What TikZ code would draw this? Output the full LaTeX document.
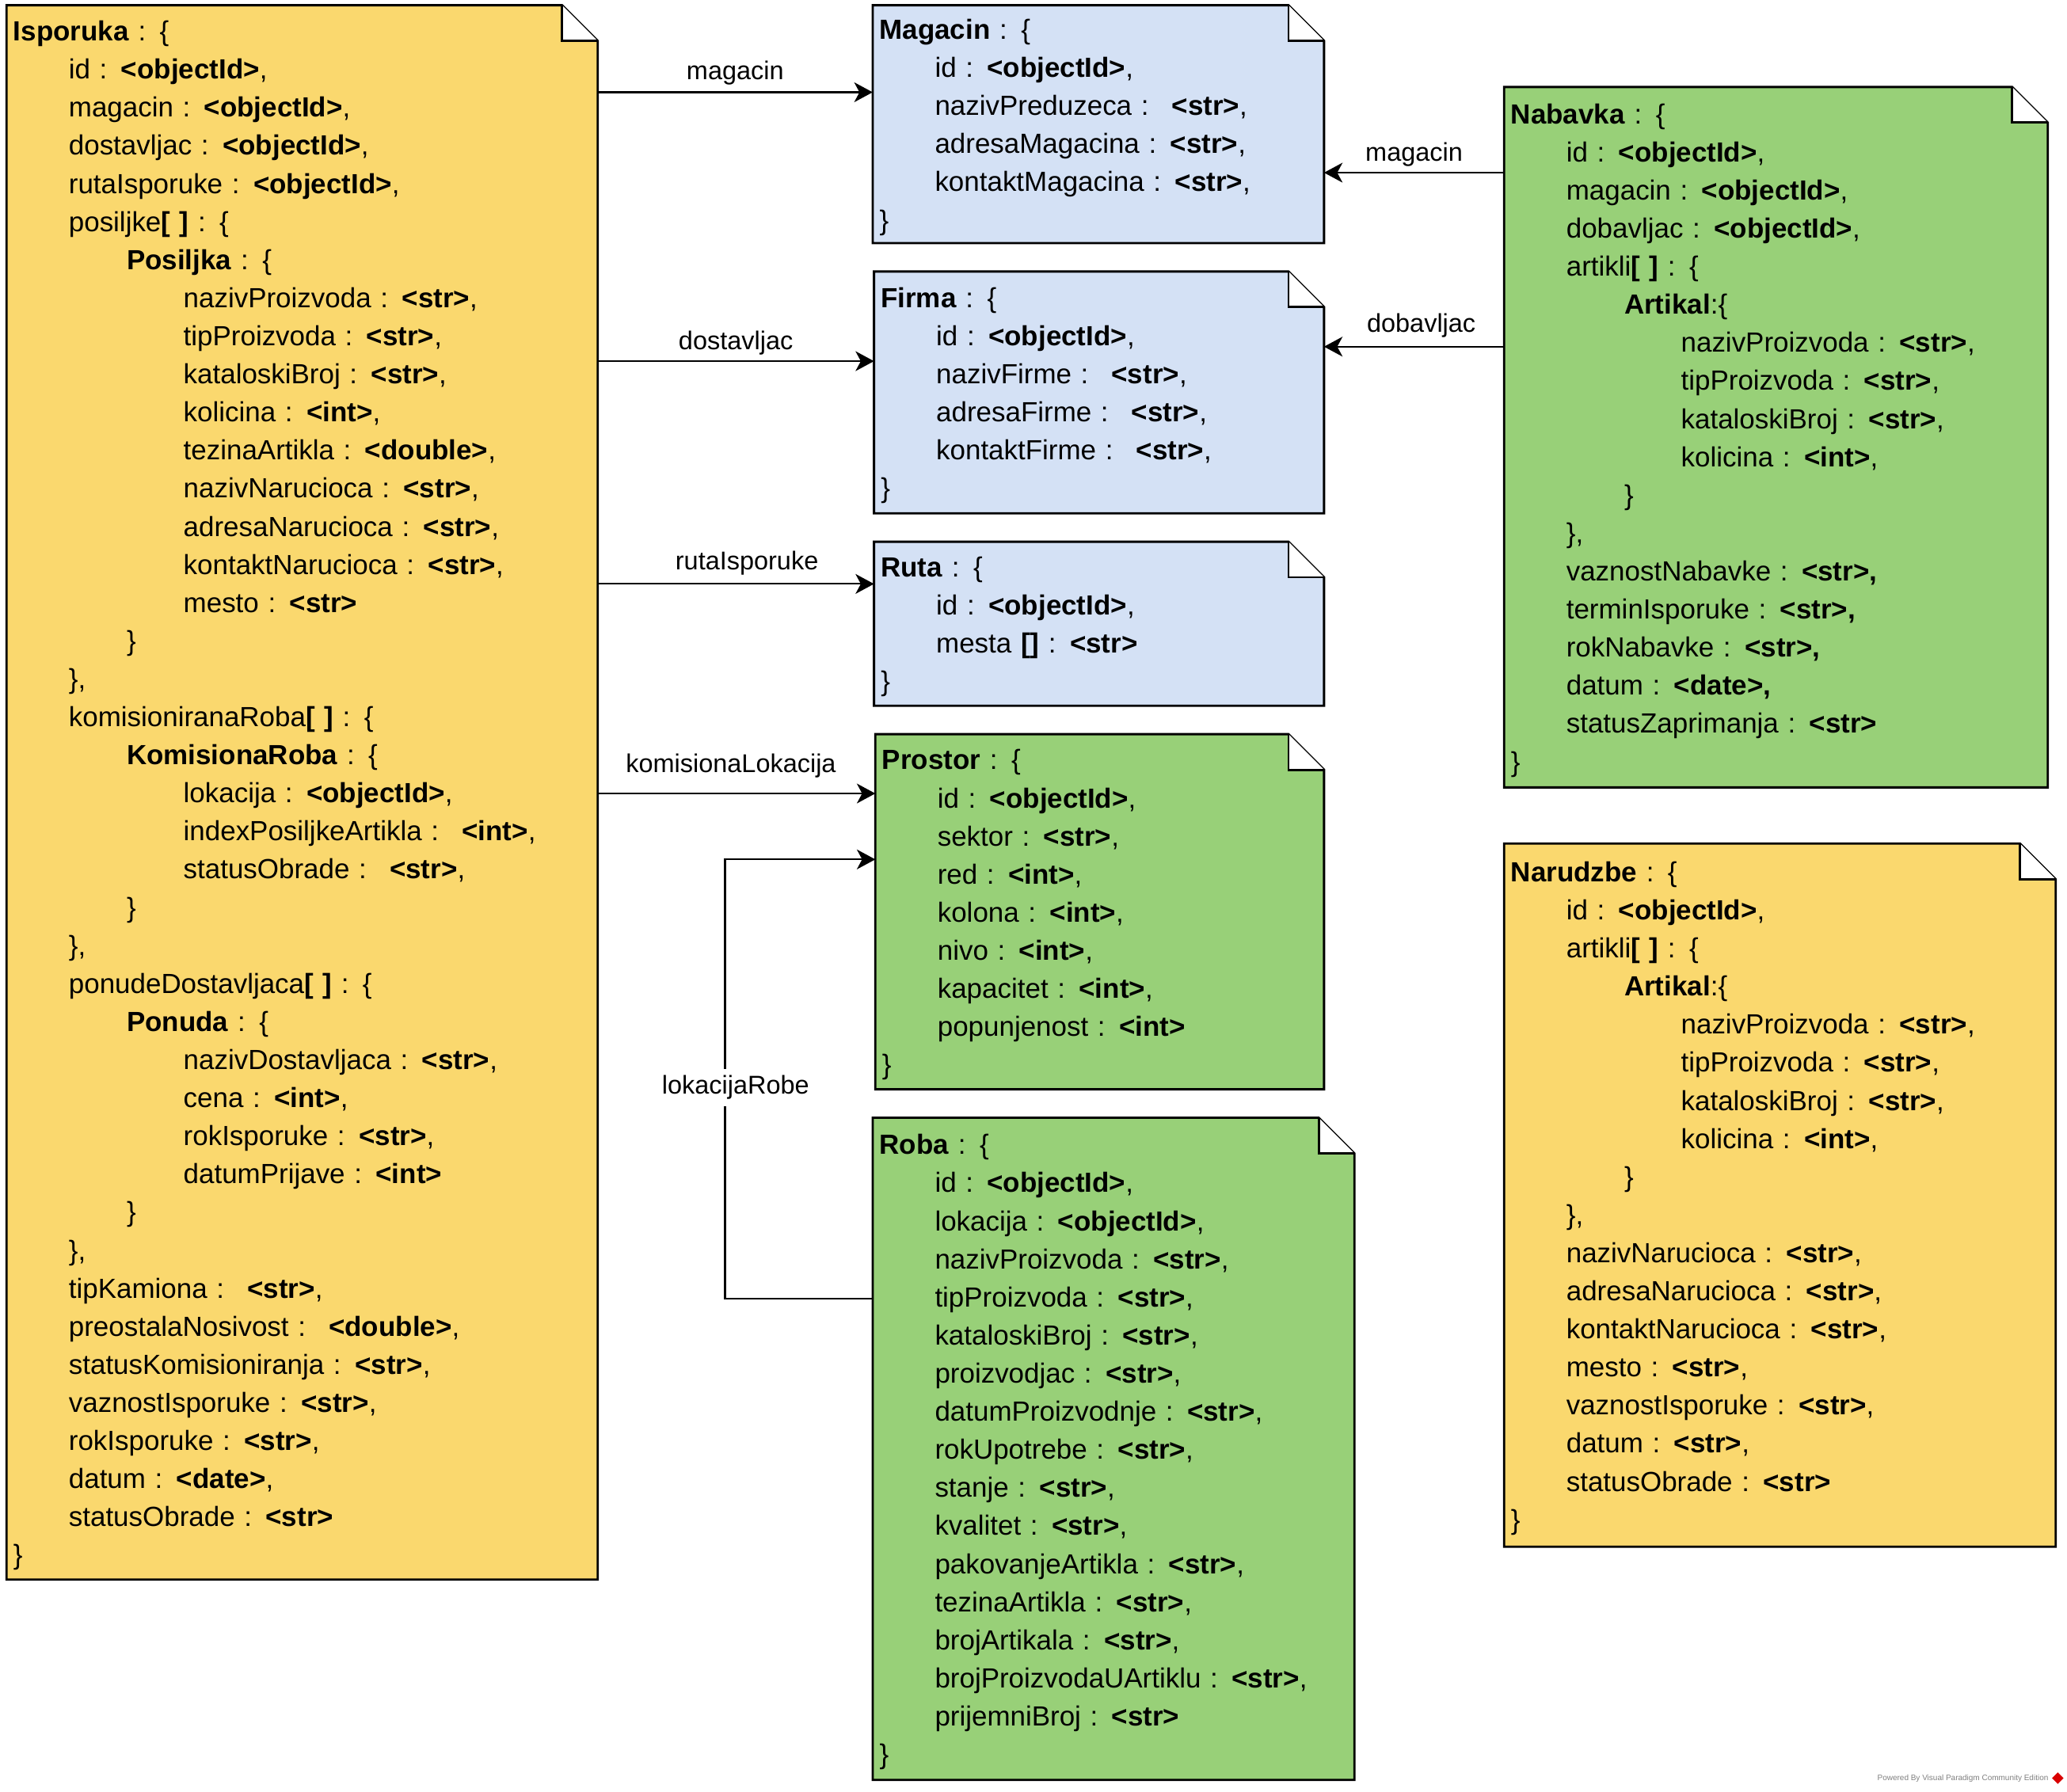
\documentclass[tikz,border=0pt]{standalone}
\usepackage{fontspec}
\setmainfont{Liberation Sans}
\usetikzlibrary{arrows.meta, calc, backgrounds, shapes.geometric}

\definecolor{noteyellow}{RGB}{250,216,110}
\definecolor{noteblue}{RGB}{212,225,245}
\definecolor{notegreen}{RGB}{152,208,120}

\newcommand{\ty}[1]{\textbf{<#1>}}
\newcommand{\tA}{\hspace*{42pt}}
\newcommand{\tB}{\hspace*{86pt}}
\newcommand{\tC}{\hspace*{129pt}}

% note outline with folded corner, drawn behind the text node
\newcommand{\notebg}[2]{%
	\begin{scope}[on background layer]
		\draw[notebox, fill=#2] (#1.north west) -- ($(#1.north east)+(-\fold,0)$) -- ($(#1.north east)+(0,\fold)$) -- (#1.south east) -- (#1.south west) -- cycle;
		\draw[notebox, fill=white] ($(#1.north east)+(-\fold,0)$) -- ($(#1.north east)+(-\fold,\fold)$) -- ($(#1.north east)+(0,\fold)$);
	\end{scope}}

\tikzset{
	notetext/.style={anchor=north west, inner xsep=5pt, inner ysep=0pt, align=left, font=\fontsize{21}{28.9}\selectfont, execute at begin node={\rule{0pt}{20pt}}},
	notebox/.style={line width=1.7pt, draw=black},
	link/.style={line width=1.3pt, -{Stealth[length=14pt, width=15pt, inset=4pt]}},
	lbl/.style={font=\fontsize{19.5}{23}\selectfont, inner sep=4pt},
}

\begin{document}
\begin{tikzpicture}[x=1pt, y=-1pt]
	\def\fold{27}
	\useasboundingbox (0,0) rectangle (1568,1359);

	% left column
	\node[notetext, text width=438pt, minimum height=1194pt] (isporuka) at (5,4) {%
		\textbf{Isporuka} : \{\\
		\tA id : \ty{objectId},\\
		\tA magacin : \ty{objectId},\\
		\tA dostavljac : \ty{objectId},\\
		\tA rutaIsporuke : \ty{objectId},\\
		\tA posiljke\textbf{[ ]} : \{\\
		\tB \textbf{Posiljka} : \{\\
		\tC nazivProizvoda : \ty{str},\\
		\tC tipProizvoda : \ty{str},\\
		\tC kataloskiBroj : \ty{str},\\
		\tC kolicina : \ty{int},\\
		\tC tezinaArtikla : \ty{double},\\
		\tC nazivNarucioca : \ty{str},\\
		\tC adresaNarucioca : \ty{str},\\
		\tC kontaktNarucioca : \ty{str},\\
		\tC mesto : \ty{str}\\
		\tB \}\\
		\tA \},\\
		\tA komisioniranaRoba\textbf{[ ]} : \{\\
		\tB \textbf{KomisionaRoba} : \{\\
		\tC lokacija : \ty{objectId},\\
		\tC indexPosiljkeArtikla :~ \ty{int},\\
		\tC statusObrade :~ \ty{str},\\
		\tB \}\\
		\tA \},\\
		\tA ponudeDostavljaca\textbf{[ ]} : \{\\
		\tB \textbf{Ponuda} : \{\\
		\tC nazivDostavljaca : \ty{str},\\
		\tC cena : \ty{int},\\
		\tC rokIsporuke : \ty{str},\\
		\tC datumPrijave : \ty{int}\\
		\tB \}\\
		\tA \},\\
		\tA tipKamiona :~ \ty{str},\\
		\tA preostalaNosivost :~ \ty{double},\\
		\tA statusKomisioniranja : \ty{str},\\
		\tA vaznostIsporuke : \ty{str},\\
		\tA rokIsporuke : \ty{str},\\
		\tA datum : \ty{date},\\
		\tA statusObrade : \ty{str}\\
		\}};
	\notebg{isporuka}{noteyellow}

	% middle column
	\node[notetext, text width=332pt, minimum height=180pt] (magacin) at (662,4) {%
		\textbf{Magacin} : \{\\
		\tA id : \ty{objectId},\\
		\tA nazivPreduzeca :~ \ty{str},\\
		\tA adresaMagacina : \ty{str},\\
		\tA kontaktMagacina : \ty{str},\\
		\}};
	\notebg{magacin}{noteblue}

	\node[notetext, text width=331pt, minimum height=183pt] (firma) at (663,206) {%
		\textbf{Firma} : \{\\
		\tA id : \ty{objectId},\\
		\tA nazivFirme :~ \ty{str},\\
		\tA adresaFirme :~ \ty{str},\\
		\tA kontaktFirme :~ \ty{str},\\
		\}};
	\notebg{firma}{noteblue}

	\node[notetext, text width=331pt, minimum height=124pt] (ruta) at (663,411) {%
		\textbf{Ruta} : \{\\
		\tA id : \ty{objectId},\\
		\tA mesta \textbf{[]} : \ty{str}\\
		\}};
	\notebg{ruta}{noteblue}

	\node[notetext, text width=330pt, minimum height=269pt] (prostor) at (664,557) {%
		\textbf{Prostor} : \{\\
		\tA id : \ty{objectId},\\
		\tA sektor : \ty{str},\\
		\tA red : \ty{int},\\
		\tA kolona : \ty{int},\\
		\tA nivo : \ty{int},\\
		\tA kapacitet : \ty{int},\\
		\tA popunjenost : \ty{int}\\
		\}};
	\notebg{prostor}{notegreen}

	\node[notetext, text width=355pt, minimum height=502pt] (roba) at (662,848) {%
		\textbf{Roba} : \{\\
		\tA id : \ty{objectId},\\
		\tA lokacija : \ty{objectId},\\
		\tA nazivProizvoda : \ty{str},\\
		\tA tipProizvoda : \ty{str},\\
		\tA kataloskiBroj : \ty{str},\\
		\tA proizvodjac : \ty{str},\\
		\tA datumProizvodnje : \ty{str},\\
		\tA rokUpotrebe : \ty{str},\\
		\tA stanje : \ty{str},\\
		\tA kvalitet : \ty{str},\\
		\tA pakovanjeArtikla : \ty{str},\\
		\tA tezinaArtikla : \ty{str},\\
		\tA brojArtikala : \ty{str},\\
		\tA brojProizvodaUArtiklu : \ty{str},\\
		\tA prijemniBroj : \ty{str}\\
		\}};
	\notebg{roba}{notegreen}

	% right column
	\node[notetext, text width=402pt, minimum height=531pt] (nabavka) at (1141,66) {%
		\textbf{Nabavka} : \{\\
		\tA id : \ty{objectId},\\
		\tA magacin : \ty{objectId},\\
		\tA dobavljac : \ty{objectId},\\
		\tA artikli\textbf{[ ]} : \{\\
		\tB \textbf{Artikal}:\{\\
		\tC nazivProizvoda : \ty{str},\\
		\tC tipProizvoda : \ty{str},\\
		\tC kataloskiBroj : \ty{str},\\
		\tC kolicina : \ty{int},\\
		\tB \}\\
		\tA \},\\
		\tA vaznostNabavke : \textbf{<str>,}\\
		\tA terminIsporuke : \textbf{<str>,}\\
		\tA rokNabavke : \textbf{<str>,}\\
		\tA datum : \textbf{<date>,}\\
		\tA statusZaprimanja : \ty{str}\\
		\}};
	\notebg{nabavka}{notegreen}

	\node[notetext, text width=408pt, minimum height=533pt] (narudzbe) at (1141,640) {%
		\textbf{Narudzbe} : \{\\
		\tA id : \ty{objectId},\\
		\tA artikli\textbf{[ ]} : \{\\
		\tB \textbf{Artikal}:\{\\
		\tC nazivProizvoda : \ty{str},\\
		\tC tipProizvoda : \ty{str},\\
		\tC kataloskiBroj : \ty{str},\\
		\tC kolicina : \ty{int},\\
		\tB \}\\
		\tA \},\\
		\tA nazivNarucioca : \ty{str},\\
		\tA adresaNarucioca : \ty{str},\\
		\tA kontaktNarucioca : \ty{str},\\
		\tA mesto : \ty{str},\\
		\tA vaznostIsporuke : \ty{str},\\
		\tA datum : \ty{str},\\
		\tA statusObrade : \ty{str}\\
		\}};
	\notebg{narudzbe}{noteyellow}

	% references
	\draw[link] (isporuka.east |- 0,70) -- node[lbl, above, yshift=1pt] {magacin} (magacin.west |- 0,70);
	\draw[link] (isporuka.east |- 0,274) -- node[lbl, above] {dostavljac} (firma.west |- 0,274);
	\draw[link] (isporuka.east |- 0,443) -- node[lbl, above, pos=0.54, yshift=2pt] {rutaIsporuke} (ruta.west |- 0,443);
	\draw[link] (isporuka.east |- 0,602) -- node[lbl, above, pos=0.48, yshift=7pt] {komisionaLokacija} (prostor.west |- 0,602);
	\draw[link] (roba.west |- 0,985) -- (550,985) |- node[lbl, pos=0.24, fill=white, inner sep=5pt, xshift=8pt] {lokacijaRobe} (prostor.west |- 0,652);
	\draw[link] (nabavka.west |- 0,131) -- node[lbl, above] {magacin} (magacin.east |- 0,131);
	\draw[link] (nabavka.west |- 0,263) -- node[lbl, above, pos=0.46, yshift=2pt] {dobavljac} (firma.east |- 0,263);

	% watermark
	\node[anchor=east, inner sep=0pt, text=gray, font=\fontsize{6}{7}\selectfont] (vpnote) at (1554,1349) {Powered By Visual Paradigm Community Edition};
	\node[diamond, fill=red!85!black, minimum size=9pt, inner sep=0pt] (vplogo) at (1561,1349) {};
\end{tikzpicture}
\end{document}
